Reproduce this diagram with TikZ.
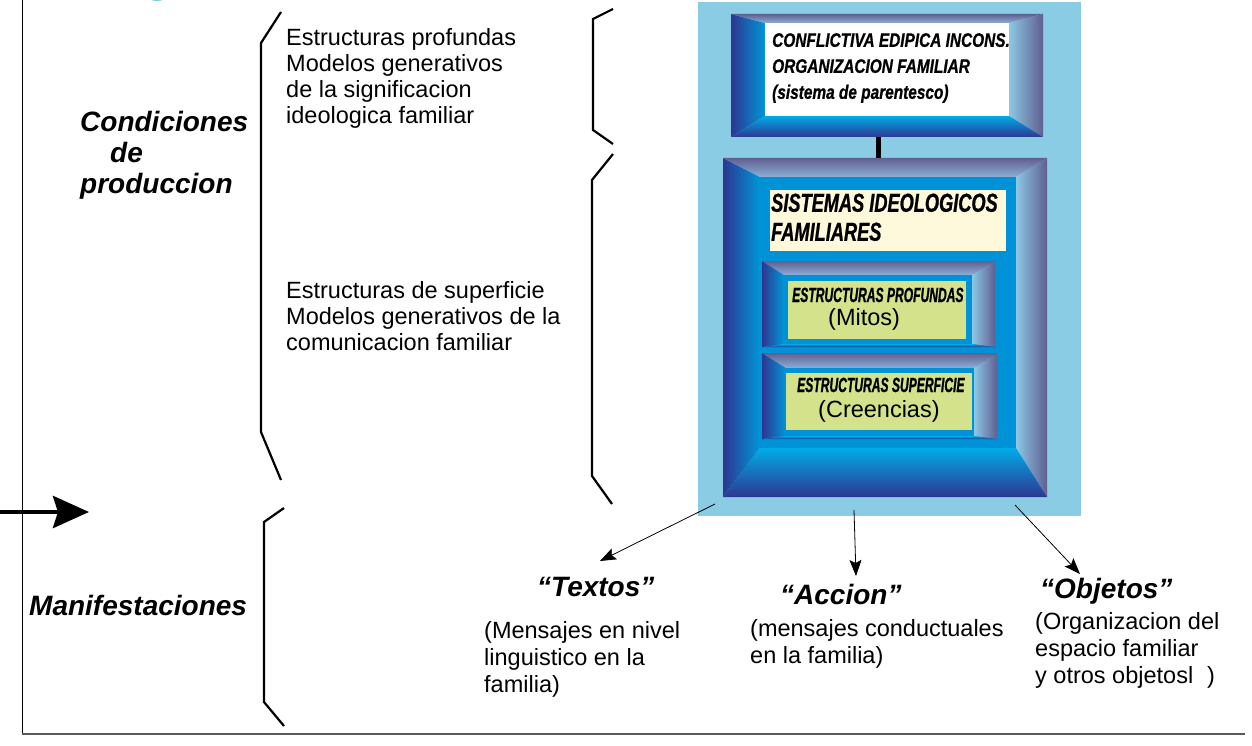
\documentclass[tikz,border=0pt]{standalone}
\usepackage{fontspec}
\setmainfont{Liberation Sans}
\newfontfamily\narA[FakeStretch=0.79,FakeBold=0.8]{Liberation Sans}
\newfontfamily\narB[FakeStretch=0.70,FakeBold=0.8]{Liberation Sans}
\newfontfamily\narC[FakeStretch=0.59,FakeBold=0.9]{Liberation Sans}
\usetikzlibrary{arrows.meta}
\definecolor{panelblue}{RGB}{137,204,228}
\definecolor{navy}{RGB}{45,55,145}
\definecolor{bblue}{RGB}{0,150,215}
\definecolor{slate}{RGB}{95,95,145}
\definecolor{lslate}{RGB}{140,175,215}
\definecolor{lightb}{RGB}{140,200,228}
\definecolor{cyanb}{RGB}{0,172,232}
\definecolor{face}{RGB}{0,146,214}
\definecolor{cream}{RGB}{255,249,219}
\definecolor{lgreen}{RGB}{212,226,139}
\definecolor{tealarc}{RGB}{120,210,205}
\newcommand{\bevelbox}[8]{%
  \shade[left color=navy, right color=bblue] (#1,#2) -- (#5,#6) -- (#5,#8) -- (#1,#4) -- cycle;
  \shade[top color=slate, bottom color=lslate] (#1,#2) -- (#3,#2) -- (#7,#6) -- (#5,#6) -- cycle;
  \shade[left color=lightb, right color=slate] (#3,#2) -- (#3,#4) -- (#7,#8) -- (#7,#6) -- cycle;
  \shade[top color=cyanb, bottom color=navy] (#1,#4) -- (#3,#4) -- (#7,#8) -- (#5,#8) -- cycle;
}
\begin{document}
\begin{tikzpicture}[x=1pt,y=-1pt,
  boxarea/.style={inner sep=0pt, draw=none},
  plain/.style={inner sep=0pt, align=left, font=\fontsize{23.5}{26}\selectfont},
  plainb/.style={inner sep=0pt, align=left, font=\fontsize{23.5}{27}\selectfont},
  lab/.style={inner sep=0pt, align=left, font=\bfseries\itshape\fontsize{28}{31}\selectfont},
  bracestyle/.style={line width=2.2pt, line join=miter},
  thinarrow/.style={line width=0.8pt, -{Stealth[length=16pt,width=12pt,inset=3pt]}},
  bigarrow/.style={line width=4.8pt, -{Stealth[length=36pt,width=32pt,inset=5pt]}},
  connector/.style={line width=5pt}
]
\useasboundingbox (0,0) rectangle (1252,746);
\begin{scope}
  \clip (0,0) rectangle (1252,746);
  \draw[tealarc, line width=1pt] (157,-17) circle (17.5);
\end{scope}
% frame
\draw[black, line width=1pt] (22,0) -- (22,734);
\draw[black!65, line width=1.6pt] (22,734) -- (1245,734);
% braces
\draw[bracestyle] (281,12) -- (261,43) -- (261,432) -- (281,480);
\draw[bracestyle] (284,508) -- (264,522) -- (264,702) -- (284,726);
\draw[bracestyle] (613,9) -- (593,19) -- (593,130) -- (613,144);
\draw[bracestyle] (613,154) -- (592,180) -- (592,476) -- (612,504);
% panel
\fill[panelblue] (698,2) rectangle (1081,516);
% top box
\bevelbox{731}{14}{1043}{137}{765}{23}{1009}{116}
\fill[white] (765,23) rectangle (1009,116);
\node[boxarea, minimum width=312pt, minimum height=123pt] (topbox) at (887,75.5) {};
% big box
\bevelbox{723}{158}{1047}{497}{760}{177}{1016}{448}
\fill[face] (760,177) rectangle (1016,448);
\node[boxarea, minimum width=324pt, minimum height=339pt] (bigbox) at (885,327.5) {};
\fill[cream] (770,190) rectangle (1006,251);
% mitos box
\bevelbox{762}{261}{995}{347}{784}{275}{972}{344}
\fill[face] (784,275) rectangle (972,344);
\fill[lgreen] (788,281) rectangle (966,339);
% creencias box
\bevelbox{762}{353}{997}{439}{786}{368}{974}{436}
\fill[face] (786,368) rectangle (974,436);
\fill[lgreen] (786,373) rectangle (972,430);
% connector
\draw[connector] ([xshift=-9pt]topbox.south) -- ([xshift=-9pt]topbox.south |- bigbox.north);
% box texts
\node[anchor=north west, inner sep=0pt, align=left, font=\narA\bfseries\itshape\fontsize{19.5}{26}\selectfont] (conf) at (772,33)
  {CONFLICTIVA EDIPICA INCONS.\\ORGANIZACION FAMILIAR\\(sistema de parentesco)};
\node[anchor=north west, inner sep=0pt, align=left, font=\narB\bfseries\itshape\fontsize{26}{29}\selectfont] (sist) at (771,193.4)
  {SISTEMAS IDEOLOGICOS\\FAMILIARES};
\node[anchor=base west, inner sep=0pt, font=\narC\bfseries\itshape\fontsize{20.5}{24}\selectfont] (eprof) at (792,302) {ESTRUCTURAS PROFUNDAS};
\node[anchor=base west, inner sep=0pt, font=\fontsize{23.5}{26}\selectfont] (mitos) at (828,325) {(Mitos)};
\node[anchor=base west, inner sep=0pt, font=\narC\bfseries\itshape\fontsize{20.5}{24}\selectfont] (esup) at (797,392) {ESTRUCTURAS SUPERFICIE};
\node[anchor=base west, inner sep=0pt, font=\fontsize{23.5}{26}\selectfont] (creen) at (818,417) {(Creencias)};
% left texts
\node[plain, anchor=north west] (g1) at (286,28) {Estructuras profundas\\Modelos generativos\\de la significacion\\ideologica familiar};
\node[plain, anchor=north west] (g2) at (286,281) {Estructuras de superficie\\Modelos generativos de la\\comunicacion familiar};
\node[lab, anchor=north west] (cond) at (80,111) {Condiciones\\\hspace*{30pt}de\\produccion};
\node[lab, anchor=base west] (manif) at (29,615) {Manifestaciones};
% big arrow
\coordinate (la0) at (0,512);
\coordinate (la1) at (89,512);
\draw[bigarrow] (la0) -- (la1);
% bottom labels
\node[lab, anchor=base west] (textos) at (537,596) {“Textos”};
\node[lab, anchor=base west] (accion) at (780,604) {“Accion”};
\node[lab, anchor=base west] (objetos) at (1040,598) {“Objetos”};
\node[plainb, anchor=north west] (textsub) at (484,621) {(Mensajes en nivel\\linguistico en la\\familia)};
\node[plainb, anchor=north west] (accsub) at (750,619) {(mensajes conductuales\\en la familia)};
\node[plainb, anchor=north west] (objsub) at (1035,612) {(Organizacion del\\espacio familiar\\y otros objetosl\hspace{14pt})};
% arrows
\coordinate (a0) at (715,504);
\coordinate (a1) at (600,561);
\coordinate (b0) at (854,510);
\coordinate (b1) at (856,576);
\coordinate (c0) at (1015,505);
\coordinate (c1) at (1080,574);
\draw[thinarrow] (a0) -- (a1);
\draw[thinarrow] (b0) -- (b1);
\draw[thinarrow] (c0) -- (c1);
\end{tikzpicture}
\end{document}
